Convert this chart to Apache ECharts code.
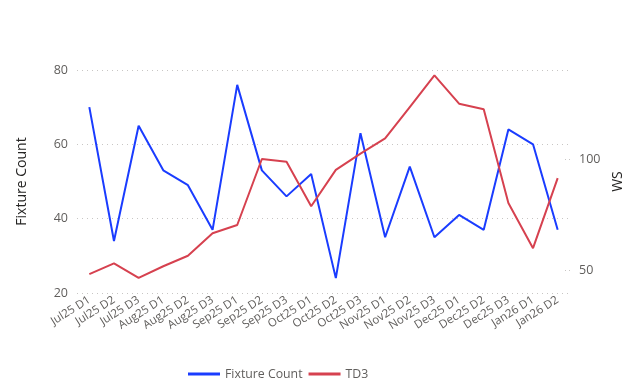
<!DOCTYPE html>
<html><head><meta charset="utf-8">
<script src="https://cdn.jsdelivr.net/npm/echarts@6/dist/echarts.min.js"></script>
<style>html,body{margin:0;padding:0;background:#fff}#c{width:639px;height:390px}</style>
</head><body><div id="c"></div>
<script>
const categories = ["Jul25 D1","Jul25 D2","Jul25 D3","Aug25 D1","Aug25 D2","Aug25 D3","Sep25 D1","Sep25 D2","Sep25 D3","Oct25 D1","Oct25 D2","Oct25 D3","Nov25 D1","Nov25 D2","Nov25 D3","Dec25 D1","Dec25 D2","Dec25 D3","Jan26 D1","Jan26 D2"];
const fixtureCount = [70,34,65,53,49,37,76,53,46,52,24,63,35,54,35,41,37,64,60,37];
const td3 = [48.5,53.3,46.8,52,56.7,66.8,70.5,100.1,98.9,78.9,95.2,102.5,109.3,123.4,137.6,124.9,122.4,80.4,60.1,91.5];
const leftTicks = [20,40,60,80];
const rightTicks = [50,100];

const font = "'Segoe UI','Open Sans',sans-serif";
const chart = echarts.init(document.getElementById('c'));
chart.setOption({
  animation:false,
  grid:{left:77,right:69,top:70,bottom:97},
  legend:{
    left:183, top:363, icon:'rect', itemWidth:32, itemHeight:3, itemGap:6,
    textStyle:{color:'#605e5c', fontSize:12.3, fontFamily:font},
    data:['Fixture Count','TD3']
  },
  xAxis:{
    type:'category', data:categories, boundaryGap:true,
    axisLine:{show:false}, axisTick:{show:false},
    axisLabel:{rotate:32, interval:0, color:'#605e5c', fontSize:11.5, fontFamily:font, margin:6}
  },
  yAxis:[{
    type:'value', min:20, max:80, interval:20, position:'left',
    name:'Fixture Count', nameLocation:'middle', nameGap:48,
    nameTextStyle:{color:'#252423', fontSize:14, fontFamily:font},
    axisLabel:{color:'#605e5c', fontSize:12.5, fontFamily:font, margin:9, customValues:leftTicks},
    axisLine:{show:false}, axisTick:{show:false},
    splitLine:{lineStyle:{type:[1,4], color:'#c8c6c4', width:1}}
  },{
    type:'value', min:40, max:140, position:'right',
    name:'WS', nameLocation:'middle', nameGap:28, nameRotate:90,
    nameTextStyle:{color:'#252423', fontSize:14, fontFamily:font},
    axisLabel:{color:'#605e5c', fontSize:12.5, fontFamily:font, margin:9, customValues:rightTicks},
    axisLine:{show:false},
    axisTick:{show:true, inside:true, length:6, customValues:rightTicks, lineStyle:{type:[1,3], color:'#c8c6c4'}},
    splitLine:{show:false}
  }],
  series:[{
    name:'Fixture Count', type:'line', yAxisIndex:0, data:fixtureCount,
    showSymbol:false, symbol:'none', lineStyle:{width:2, color:'#1a3cff'}, itemStyle:{color:'#1a3cff'}
  },{
    name:'TD3', type:'line', yAxisIndex:1, data:td3,
    showSymbol:false, symbol:'none', lineStyle:{width:2, color:'#d6414f'}, itemStyle:{color:'#d6414f'}
  }]
});
</script></body></html>
